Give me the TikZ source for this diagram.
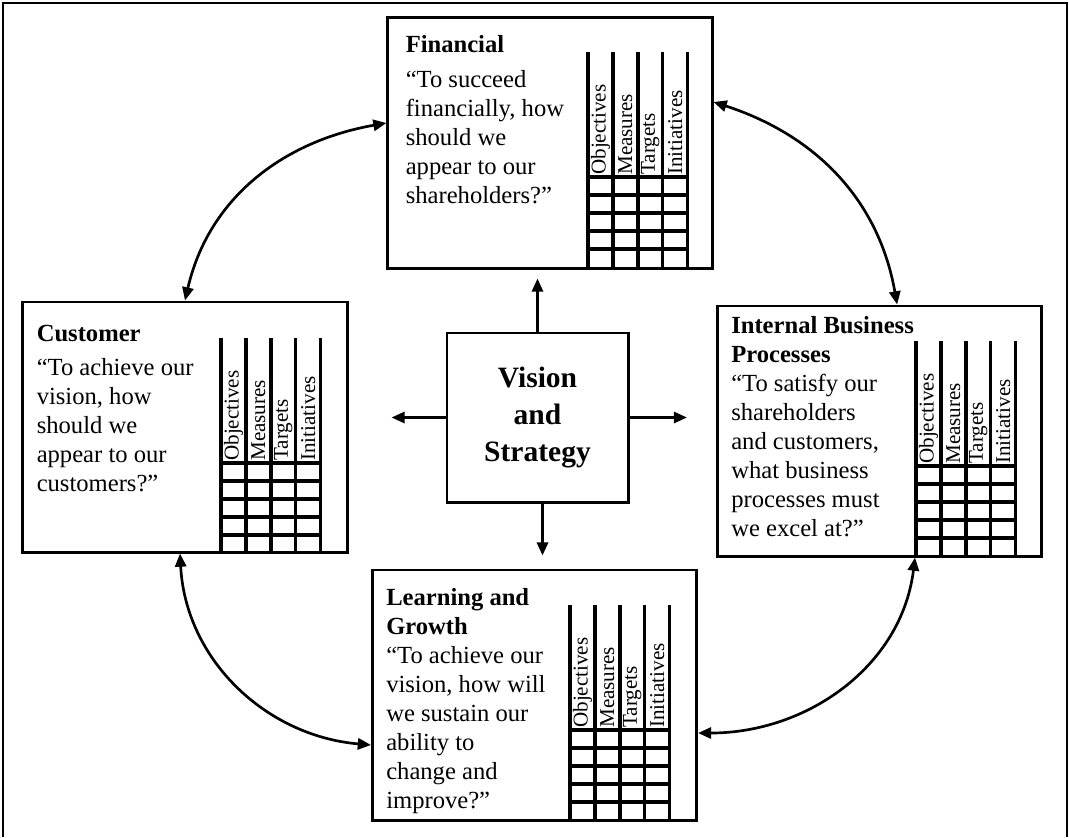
\documentclass[tikz,border=0pt]{standalone}
\usepackage{fontspec}
\setmainfont{Liberation Serif}
\usepackage{tikz}
\usetikzlibrary{arrows.meta, calc}
\tikzstyle{panel} = [rectangle, draw=black, line width=2.1pt, minimum width=8.1cm, minimum height=6.25cm, inner sep=0pt]
\tikzstyle{blurb} = [anchor=north west, align=left, inner sep=0pt, font=\fontsize{17.5}{20.6}\selectfont]
\tikzstyle{colhead} = [rotate=90, anchor=west, inner sep=0pt, font=\fontsize{15}{15}\selectfont]
\tikzstyle{gridline} = [line width=2.5pt]
\tikzstyle{arrow} = [line width=1.9pt, ->, >={Triangle[length=0.33cm, width=0.28cm]}]
\tikzstyle{link} = [line width=1.9pt, <->, >={Triangle[length=0.33cm, width=0.28cm]}]

% scorecard grid: #1 left edge, #2 bottom of the header row
\newcommand{\scoregrid}[2]{
  \foreach \i in {0,...,4}
    \draw [gridline] (#1+24.9*\i,#2-125) -- (#1+24.9*\i,#2+90);
  \foreach \j in {0,...,4}
    \draw [gridline] (#1,#2+18*\j) -- (#1+99.6,#2+18*\j);
  \foreach \w [count=\k from 0] in {Objectives,Measures,Targets,Initiatives}
    \node [colhead] at (#1+12.45+24.9*\k,#2-2) {\w};
}

\begin{document}
\begin{tikzpicture}[x=0.025cm, y=-0.025cm]
  \useasboundingbox (0,0) rectangle (1069,837);
  \draw [line width=2.1pt] (3,837) -- (3,3) -- (1067,3) -- (1067,837);
  % nodes
    \node (vision) [panel, minimum width=4.525cm, minimum height=4.225cm, align=center, font=\fontsize{21}{26.3}\selectfont\bfseries] at (537.5,417.5) {Vision\\and\\Strategy};
    \node (financial) [panel] at (550,143) {};
    \node (customer) [panel] at (185,427) {};
    \node (internal) [panel] at (879.5,431) {};
    \node (learning) [panel] at (534.5,695) {};
  % texts
    \node (financialtext) [blurb] at ([xshift=0.475cm, yshift=-0.475cm]financial.north west)
      {\textbf{Financial}\\[4pt]“To succeed\\financially, how\\should we\\appear to our\\shareholders?”};
    \node (customertext) [blurb] at ([xshift=0.375cm, yshift=-0.6cm]customer.north west)
      {\textbf{Customer}\\[4pt]“To achieve our\\vision, how\\should we\\appear to our\\customers?”};
    \node (internaltext) [blurb] at ([xshift=0.375cm, yshift=-0.3cm]internal.north west)
      {\textbf{Internal Business}\\\textbf{Processes}\\“To satisfy our\\shareholders\\and customers,\\what business\\processes must\\we excel at?”};
    \node (learningtext) [blurb] at ([xshift=0.375cm, yshift=-0.5cm]learning.north west)
      {\textbf{Learning and}\\\textbf{Growth}\\“To achieve our\\vision, how will\\we sustain our\\ability to\\change and\\improve?”};
  % grids
    \scoregrid{588}{177}
    \scoregrid{221}{463}
    \scoregrid{916}{466}
    \scoregrid{570}{730}
  % arrows
    \draw [arrow, shorten >=0.225cm] (vision.north) -- (vision.north |- financial.south);
    \draw [arrow, shorten >=0.325cm] ($(vision.south)+(5,0)$) -- ($(vision.south |- learning.north)+(5,0)$);
    \draw [arrow, shorten >=1.075cm] (vision.west) -- (vision.west -| customer.east);
    \draw [arrow, shorten >=0.725cm] (vision.east) -- (vision.east -| internal.west);
    \draw [link] (customer.north) to [out=77, in=190] ([yshift=0.5cm]financial.west);
    \draw [link] ([yshift=1.025cm]financial.east) to [out=-18, in=100] ([xshift=0.44cm]internal.north);
    \draw [link] ([xshift=-0.125cm]customer.south) to [out=-87, in=175] ([yshift=-1.25cm]learning.west);
    \draw [link] ([xshift=0.8875cm]internal.south) to [out=-97, in=0] ([yshift=-0.95cm]learning.east);
\end{tikzpicture}
\end{document}
